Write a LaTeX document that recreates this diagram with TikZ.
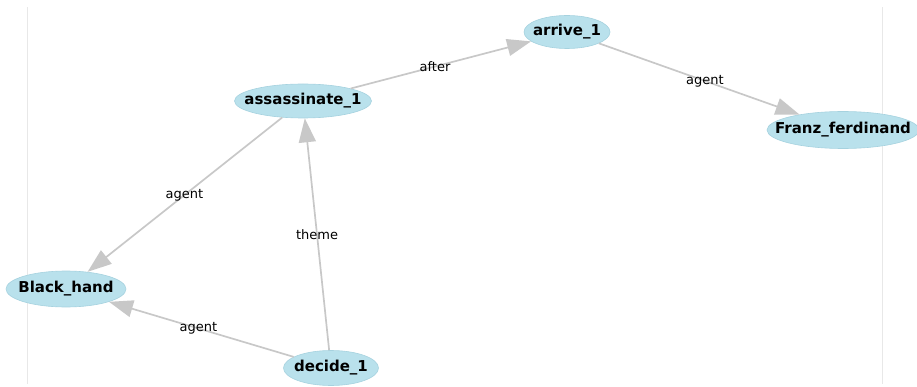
\documentclass[tikz,border=0pt]{standalone}
\usepackage{fontspec}
\setmainfont{DejaVu Sans}
\usetikzlibrary{shapes.geometric,arrows.meta}
\definecolor{nodefill}{HTML}{B9E1EC}
\definecolor{nodeedge}{HTML}{A6D2DF}
\definecolor{linkgray}{HTML}{C8C8C8}
\definecolor{framegray}{HTML}{E8E8E8}
\tikzset{
  concept/.style={ellipse, fill=nodefill, draw=nodeedge, line width=0.6pt,
    inner sep=0pt},
  ctext/.style={inner sep=0pt, font=\fontsize{15}{17}\selectfont\bfseries},
  link/.style={draw=linkgray, line width=1.7pt,
    -{Triangle[length=24pt,width=17pt,fill=linkgray]}},
  lbl/.style={inner sep=1pt, font=\fontsize{13}{15}\selectfont}
}
\begin{document}
\begin{tikzpicture}[x=1pt,y=-1pt]
  \useasboundingbox (0,0) rectangle (917,387);
  % faint frame lines on both sides
  \draw[framegray, line width=0.8pt] (27,7) -- (27,384);
  \draw[framegray, line width=0.8pt] (882,7) -- (882,384);

  % concepts: fixed-size ellipses, names set on top
  \node[concept, minimum width=86pt, minimum height=33pt,
        label={[ctext]center:arrive\_1}] (arrive) at (567,32) {};
  \node[concept, minimum width=137pt, minimum height=34pt,
        label={[ctext]center:assassinate\_1}] (assassinate) at (303,101) {};
  \node[concept, minimum width=152pt, minimum height=37pt,
        label={[ctext]center:Franz\_ferdinand}] (franz) at (843,130) {};
  \node[concept, minimum width=120pt, minimum height=36pt,
        label={[ctext]center:Black\_hand}] (black) at (66,289) {};
  \node[concept, minimum width=95pt, minimum height=35pt,
        label={[ctext]center:decide\_1}] (decide) at (331,368) {};

  % relations
  \draw[link] (assassinate) -- (arrive);
  \draw[link] (arrive) -- (franz);
  \draw[link] (assassinate) -- (black);
  \draw[link] (decide) -- (assassinate);
  \draw[link] (decide) -- (black);

  % relation names, halfway between the concept centres
  \path (assassinate.center) -- node[lbl] {after} (arrive.center);
  \path (arrive.center) -- node[lbl] {agent} (franz.center);
  \path (assassinate.center) -- node[lbl] {agent} (black.center);
  \path (decide.center) -- node[lbl] {theme} (assassinate.center);
  \path (decide.center) -- node[lbl] {agent} (black.center);
\end{tikzpicture}
\end{document}
